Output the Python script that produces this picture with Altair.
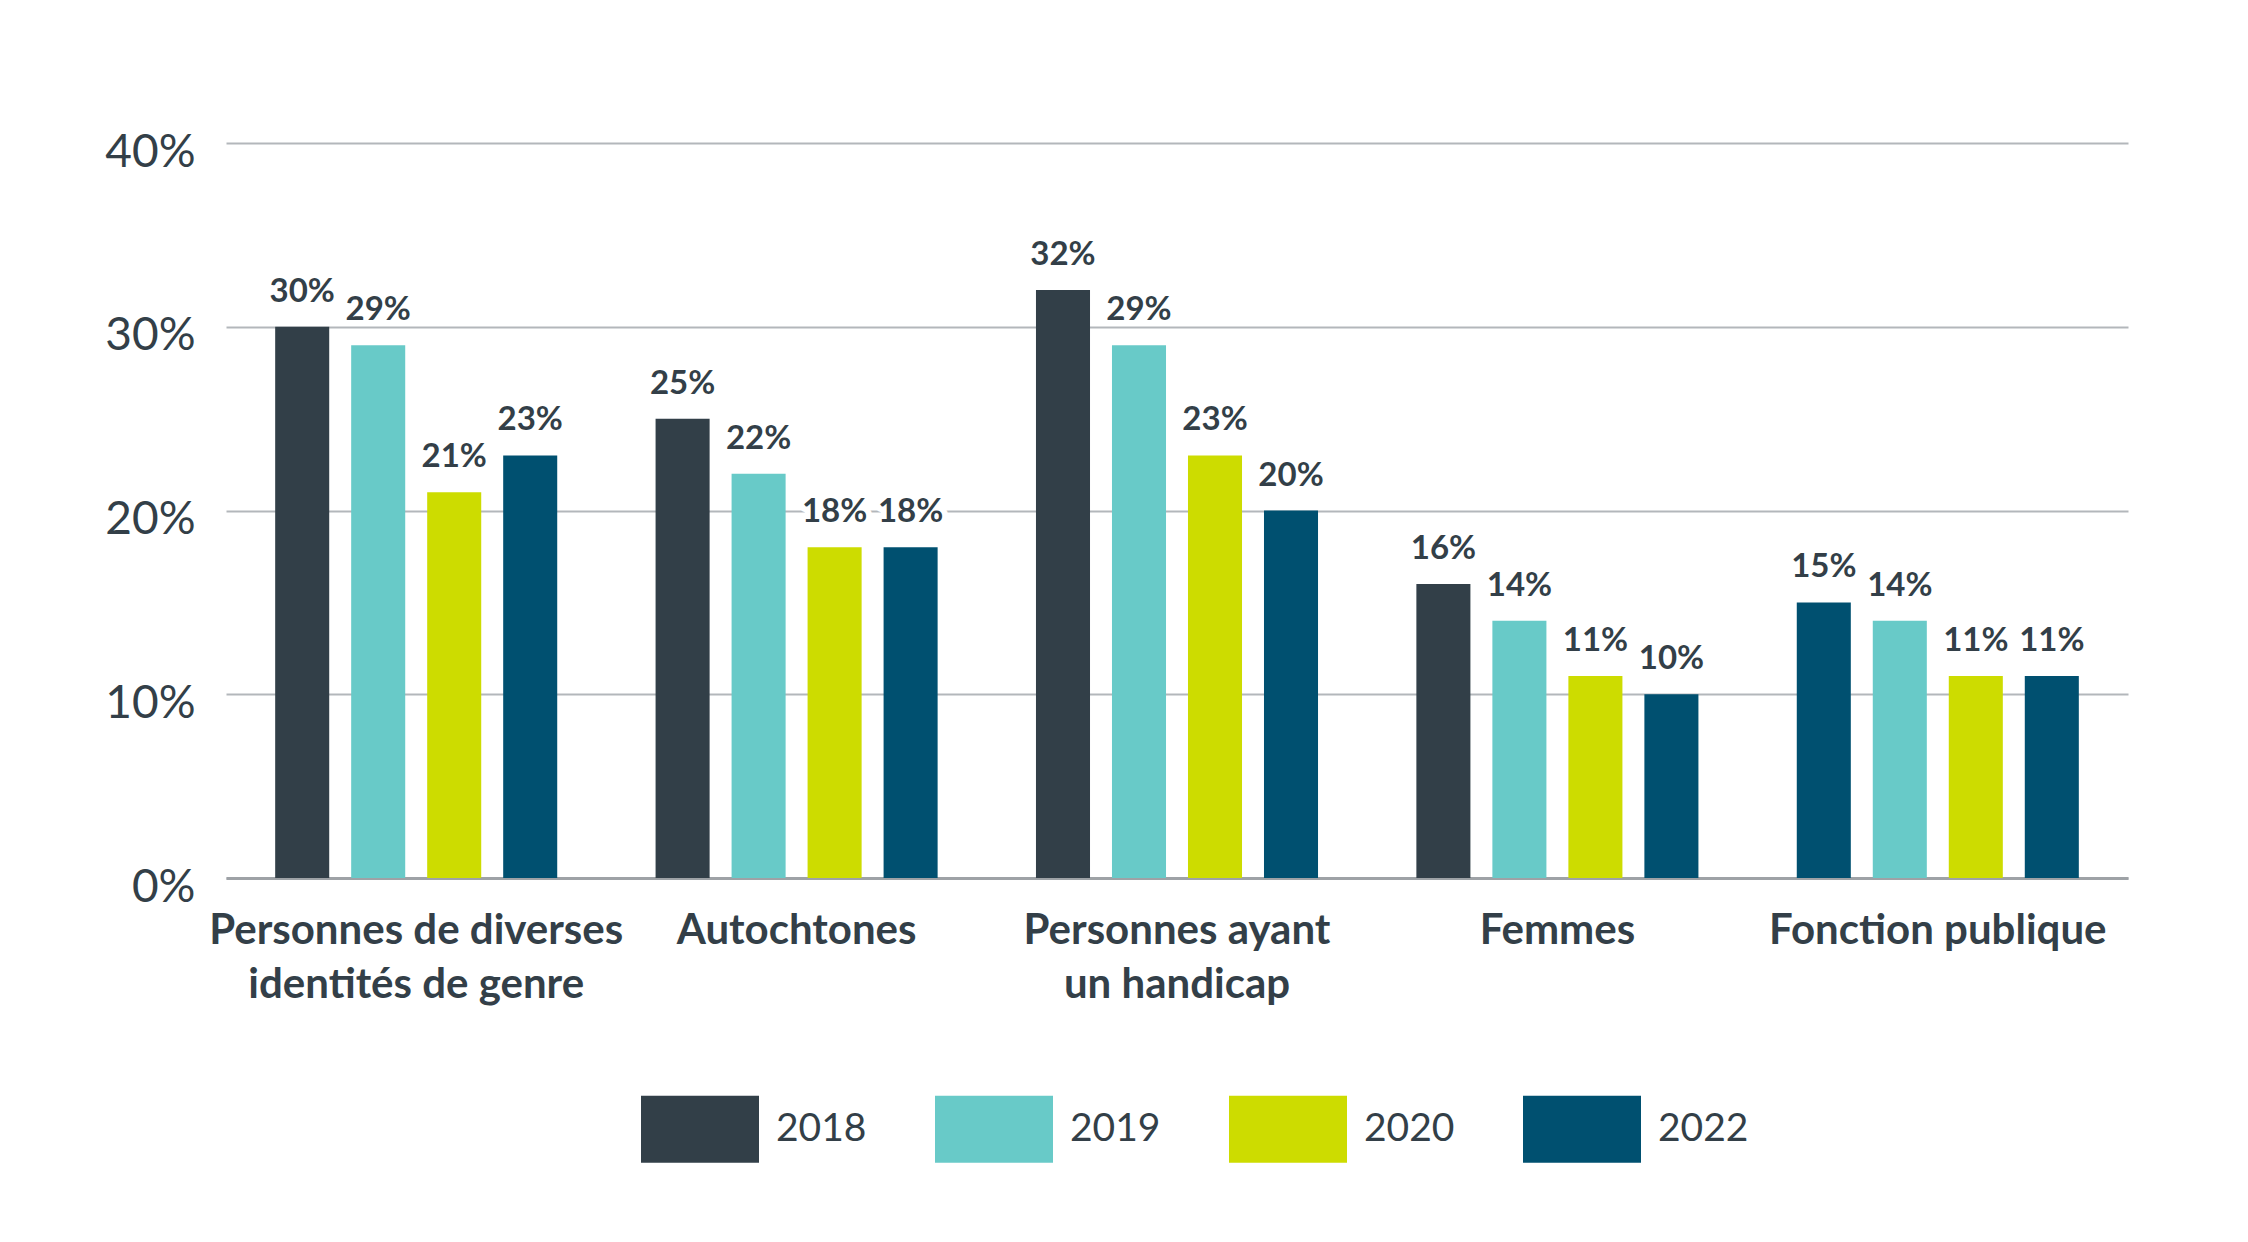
import altair as alt
import pandas as pd

groupes = [
    "Personnes de diverses|identités de genre",
    "Autochtones",
    "Personnes ayant|un handicap",
    "Femmes",
    "Fonction publique",
]
annees = ["2018", "2019", "2020", "2022"]
valeurs = {
    "2018": [30, 25, 32, 16, 15],
    "2019": [29, 22, 29, 14, 14],
    "2020": [21, 18, 23, 11, 11],
    "2022": [23, 18, 20, 10, 11],
}
# In the source, the 2018 bar of "Fonction publique" is drawn in the 2022 colour
cle_couleur_speciale = {("Fonction publique", "2018"): "2018 (FP)"}

couleurs_domaine = ["2018", "2019", "2020", "2022", "2018 (FP)"]
couleurs_range = ["#323f48", "#68cac8", "#cddc00", "#005070", "#005070"]
texte = "#333f48"

rows = []
for a in annees:
    for g, v in zip(groupes, valeurs[a]):
        rows.append({
            "groupe": g,
            "annee": a,
            "valeur": v,
            "etiquette": f"{v}%",
            "couleur": cle_couleur_speciale.get((g, a), a),
        })
df = pd.DataFrame(rows)

base = alt.Chart(df).encode(
    x=alt.X(
        "groupe:N",
        sort=groupes,
        scale=alt.Scale(paddingInner=0, paddingOuter=0),
        axis=alt.Axis(
            title=None,
            labelAngle=0,
            labelExpr="split(datum.label, '|')",
            labelFont="Lato",
            labelFontSize=42,
            labelFontWeight="bold",
            labelColor=texte,
            labelPadding=32,
            labelLineHeight=54,
            labelLimit=0,
            ticks=False,
            domainColor="#9ea2a6",
            domainWidth=3,
        ),
    ),
    xOffset=alt.XOffset(
        "annee:N",
        sort=annees,
        scale=alt.Scale(paddingInner=0.289, paddingOuter=0.647),
    ),
    y=alt.Y(
        "valeur:Q",
        scale=alt.Scale(domain=[0, 40], nice=False),
        axis=alt.Axis(
            title=None,
            values=[0, 10, 20, 30, 40],
            labelExpr="datum.value + '%'",
            labelFont="Lato",
            labelFontSize=46,
            labelColor=texte,
            labelPadding=31,
            labelOffset=9,
            ticks=False,
            domain=False,
            grid=True,
            gridColor="#b3b7bb",
            gridWidth=2,
        ),
    ),
)

bars = base.mark_bar().encode(
    color=alt.Color(
        "couleur:N",
        scale=alt.Scale(domain=couleurs_domaine, range=couleurs_range),
        legend=alt.Legend(
            values=annees,
            title=None,
            orient="none",
            legendX=415,
            legendY=927,
            direction="horizontal",
            symbolType="M-1,-0.568H1V0.568H-1Z",
            symbolSize=13924,
            symbolStrokeWidth=0,
            symbolOpacity=1,
            labelFont="Lato",
            labelFontSize=39,
            labelColor=texte,
            labelOffset=17,
            columnPadding=68,
        ),
    )
)

halo = base.mark_text(
    font="Lato", fontSize=33, fontWeight="bold", baseline="alphabetic",
    dy=-25, stroke="white", strokeWidth=12, fill="white",
).encode(text="etiquette:N")

labels = base.mark_text(
    font="Lato", fontSize=33, fontWeight="bold", baseline="alphabetic",
    dy=-25, color=texte,
).encode(text="etiquette:N")

chart = (
    alt.layer(bars, halo, labels)
    .properties(
        width=1902,
        height=735,
        padding={"left": 218, "top": 135, "right": 112, "bottom": 356},
        autosize=alt.AutoSizeParams(type="none"),
        background="white",
    )
    .configure_view(stroke=None)
)

chart.save("out.html", embed_options={"renderer": "svg", "actions": False})
